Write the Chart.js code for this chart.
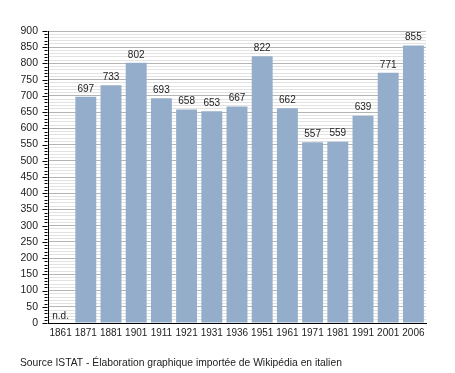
<!DOCTYPE html>
<html>
<head>
<meta charset="utf-8">
<script src="https://cdn.jsdelivr.net/npm/chart.js@4.4.1/dist/chart.umd.min.js"></script>
<style>
html,body{margin:0;padding:0;background:#fff;}
#wrap{width:455px;height:373px;position:relative;}
</style>
</head>
<body>
<div id="wrap"><canvas id="c" width="455" height="373"></canvas></div>
<script>
const years = ['1861','1871','1881','1901','1911','1921','1931','1936','1951','1961','1971','1981','1991','2001','2006'];
const population = [null,697,733,802,693,658,653,667,822,662,557,559,639,771,855];
const missingLabel = 'n.d.';
const sourceText = 'Source ISTAT - Élaboration graphique importée de Wikipédia en italien';
const yMin = 0, yMax = 900, yMajorStep = 50, yMinorStep = 10;

const FONT = '"Liberation Sans", Arial, sans-serif';

const extras = {
  id: 'extras',
  afterDatasetsDraw(chart) {
    const ctx = chart.ctx;
    const meta = chart.getDatasetMeta(0);
    const x = chart.scales.x, y = chart.scales.y;
    ctx.save();
    ctx.font = '10px ' + FONT;
    ctx.fillStyle = '#222';
    ctx.textAlign = 'center';
    ctx.textBaseline = 'bottom';
    population.forEach((v, i) => {
      if (v === null) {
        ctx.fillText(missingLabel, x.getPixelForValue(i), y.getPixelForValue(0) - 2);
      } else {
        const el = meta.data[i];
        ctx.fillText(String(v), el.x, el.y - 3);
      }
    });
    // y ticks
    ctx.strokeStyle = '#000';
    ctx.lineWidth = 1;
    const ax = Math.round(chart.chartArea.left) - 0.5;
    for (let v = yMin; v <= yMax; v += yMinorStep) {
      const py = Math.round(y.getPixelForValue(v)) + 0.5;
      const len = (v % yMajorStep === 0) ? 5 : 3;
      ctx.beginPath();
      ctx.moveTo(ax - len, py);
      ctx.lineTo(ax, py);
      ctx.stroke();
    }
    ctx.restore();
  },
  afterDraw(chart) {
    const ctx = chart.ctx;
    ctx.save();
    ctx.font = '10.3px ' + FONT;
    ctx.fillStyle = '#222';
    ctx.textAlign = 'left';
    ctx.textBaseline = 'middle';
    ctx.fillText(sourceText, 20, 363);
    ctx.restore();
  }
};

new Chart(document.getElementById('c'), {
  type: 'bar',
  data: {
    labels: years,
    datasets: [{
      data: population,
      backgroundColor: '#94adca',
      borderWidth: 0,
      categoryPercentage: 1,
      barPercentage: 0.83
    }]
  },
  options: {
    responsive: false,
    animation: false,
    devicePixelRatio: 1,
    layout: { padding: { left: 0, right: 29, top: 31, bottom: 0 } },
    plugins: { legend: { display: false }, tooltip: { enabled: false } },
    scales: {
      x: {
        grid: { display: false, drawTicks: false },
        border: { display: true, color: '#000', width: 1 },
        ticks: { color: '#222', font: { family: FONT, size: 10 }, padding: 4, maxRotation: 0, autoSkip: false },
        afterFit(s) { s.height = 50; }
      },
      y: {
        min: yMin, max: yMax,
        grid: {
          drawTicks: false,
          color: (c) => (c.tick && c.tick.value % yMajorStep === 0) ? '#b4b4b4' : '#e2e2e2',
          lineWidth: 1
        },
        border: { display: true, color: '#000', width: 1 },
        ticks: {
          stepSize: yMinorStep,
          autoSkip: false,
          color: '#222',
          font: { family: FONT, size: 10.5 },
          padding: 10,
          callback: (v) => (v % yMajorStep === 0) ? String(v) : ''
        },
        afterFit(s) { s.width = 48; }
      }
    }
  },
  plugins: [extras]
});
</script>
</body>
</html>
